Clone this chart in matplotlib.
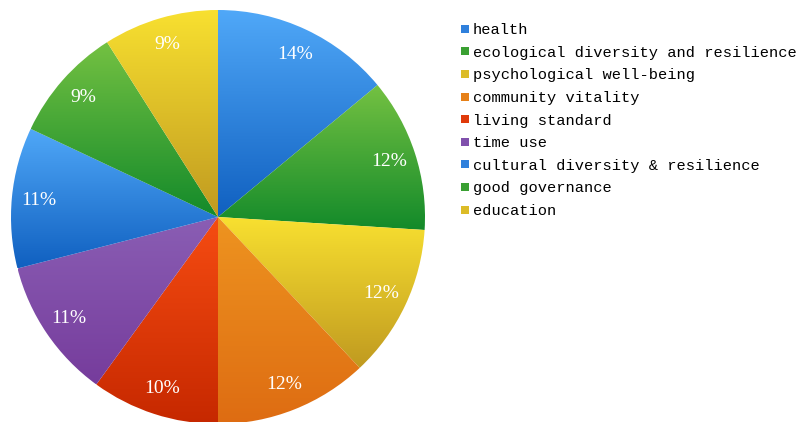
import numpy as np
import matplotlib.pyplot as plt
from matplotlib.colors import to_rgb
from matplotlib.lines import Line2D

categories = ["health", "ecological diversity and resilience", "psychological well-being",
              "community vitality", "living standard", "time use",
              "cultural diversity & resilience", "good governance", "education"]
shares = [14, 12, 12, 12, 10, 11, 11, 9, 9]

# (top colour, bottom colour) gradient per slice
top_colors = ["#50A8F8", "#74C142", "#F8E030", "#EE9420", "#F64C12", "#8A5EB4",
              "#50A8F8", "#74C142", "#F8E030"]
bottom_colors = ["#1060C0", "#138A2A", "#C09A20", "#DE6C12", "#C62800", "#763C9C",
                 "#1060C0", "#138A2A", "#C09A20"]
legend_colors = ["#2F80DC", "#3AA032", "#DCBC28", "#E68018", "#E03A0A", "#8050AC",
                 "#2F80DC", "#3AA032", "#DCBC28"]

fig = plt.figure(figsize=(7.98, 4.22), dpi=100)
cx, cy, R = 218, 217, 207
ax = fig.add_axes([(cx - R) / 798, (422 - cy - R) / 422, 2 * R / 798, 2 * R / 422])
ax.set_xlim(-1, 1)
ax.set_ylim(-1, 1)
ax.set_aspect("equal")
ax.axis("off")

wedges, texts, autotexts = ax.pie(
    shares, startangle=90, counterclock=False, radius=1,
    autopct="%.0f%%", pctdistance=0.87,
    wedgeprops=dict(linewidth=0),
    textprops=dict(color="white", fontsize=14, family="Liberation Serif"),
)

for w, c1, c2 in zip(wedges, top_colors, bottom_colors):
    verts = w.get_patch_transform().transform(w.get_path().vertices)
    x0, y0 = verts.min(axis=0)
    x1, y1 = verts.max(axis=0)
    t = np.linspace(0, 1, 256)[:, None]
    grad = (1 - t) * np.array(to_rgb(c1)) + t * np.array(to_rgb(c2))
    img = ax.imshow(grad[:, None, :], extent=[x0, x1, y0, y1], origin="upper",
                    aspect="auto", zorder=1, interpolation="bilinear")
    img.set_clip_path(w)
    w.set_facecolor("none")
ax.set_xlim(-1, 1)
ax.set_ylim(-1, 1)
for t in autotexts:
    t.set_zorder(3)

handles = [Line2D([], [], marker="s", linestyle="none", markersize=5.5,
                  markerfacecolor=c, markeredgewidth=0) for c in legend_colors]
fig.legend(handles, categories, loc="upper left", bbox_to_anchor=(461 / 798, 1 - 23 / 422),
           frameon=False, handlelength=0.5, handletextpad=0.25, labelspacing=0.56,
           borderpad=0, borderaxespad=0,
           prop=dict(family="Liberation Mono", size=11.1))

fig.savefig("out.png", dpi=100, facecolor="white")
